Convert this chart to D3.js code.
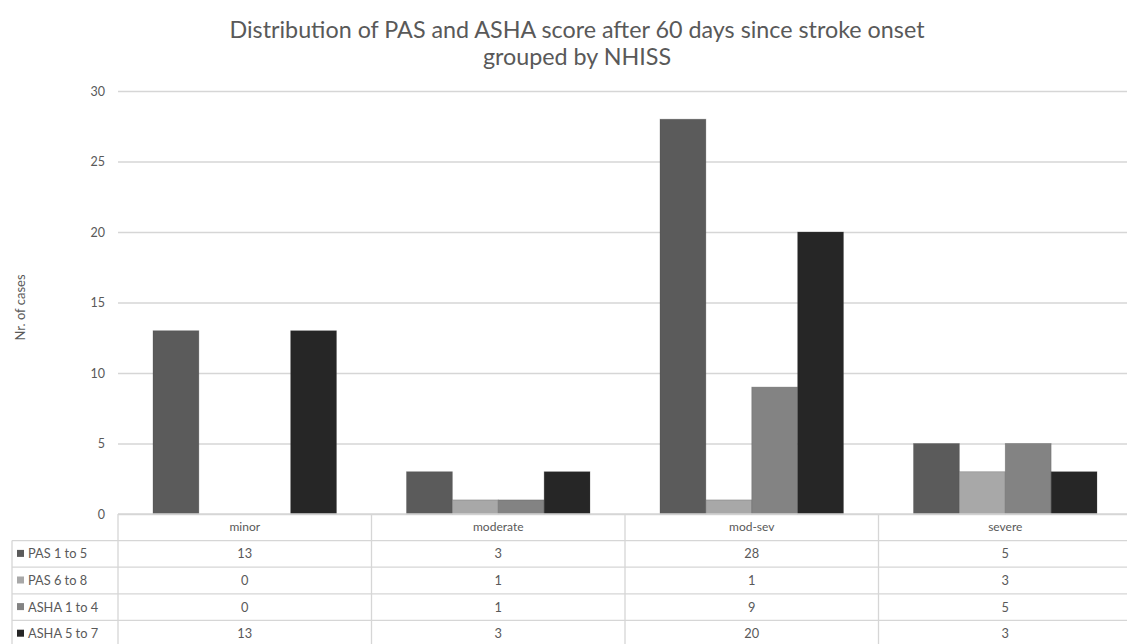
<!DOCTYPE html>
<html>
<head>
<meta charset="utf-8">
<script src="https://cdn.jsdelivr.net/npm/d3@7"></script>
<style>
  html, body { margin: 0; padding: 0; background: #fff; }
  svg { display: block; font-family: "Lato", "Open Sans", sans-serif; }
</style>
</head>
<body>
<svg id="chart" width="1127" height="644"></svg>
<script>
// Severity groups (NIHSS) and the score bands counted in each
const categories = ["minor", "moderate", "mod-sev", "severe"];
const seriesNames = ["PAS 1 to 5", "PAS 6 to 8", "ASHA 1 to 4", "ASHA 5 to 7"];
const pas1to5  = [13, 3, 28, 5];
const pas6to8  = [0, 1, 1, 3];
const asha1to4 = [0, 1, 9, 5];
const asha5to7 = [13, 3, 20, 3];
const yTicks = [0, 5, 10, 15, 20, 25, 30];

const seriesValues = [pas1to5, pas6to8, asha1to4, asha5to7];
const colors = ["#5b5b5b", "#a8a8a8", "#838383", "#262626"];

const svg = d3.select("#chart");
const textColor = "#595959";
const gridColor = "#d6d6d6";

const plotLeft = 118, plotRight = 1132, plotTop = 91, plotBottom = 514;
const rowH = 26.6;
const legendX = 12;

const x0 = d3.scaleBand().domain(categories).range([plotLeft, plotRight]);
const bandW = x0.bandwidth();
const x1 = d3.scaleBand().domain(seriesNames).range([35, bandW - 35]);
const y = d3.scaleLinear().domain([0, 30]).range([plotBottom, plotTop]);

svg.append("rect").attr("width", 1127).attr("height", 644).attr("fill", "#fff");

// Title
const title = svg.append("text")
  .attr("text-anchor", "middle")
  .attr("fill", textColor).style("font-size", "23.3px");
title.append("tspan").attr("x", 577).attr("y", 38)
  .text("Distribution of PAS and ASHA score after 60 days since stroke onset");
title.append("tspan").attr("x", 577).attr("y", 65).text("grouped by NHISS");

// Horizontal gridlines and y tick labels
const yAxis = d3.axisLeft(y).tickValues(yTicks).tickSize(-(plotRight - plotLeft)).tickPadding(13);
const gAxis = svg.append("g").attr("transform", `translate(${plotLeft},0)`).call(yAxis);
gAxis.select(".domain").remove();
gAxis.selectAll(".tick line").attr("stroke", gridColor).attr("stroke-width", 1.3);
gAxis.selectAll(".tick text").attr("fill", textColor)
  .style("font-size", "12.5px").style("font-family", "Lato, sans-serif");

// Y axis title
svg.append("text")
  .attr("transform", `translate(25,${(plotTop + plotBottom) / 2 + 5}) rotate(-90)`)
  .attr("text-anchor", "middle").attr("fill", textColor)
  .style("font-size", "13px").text("Nr. of cases");

// Bars
const groups = svg.append("g").selectAll("g")
  .data(categories).join("g")
  .attr("transform", d => `translate(${x0(d)},0)`);
groups.selectAll("rect")
  .data((c, ci) => seriesNames.map((s, si) => ({ s, si, v: seriesValues[si][ci] })))
  .join("rect")
  .attr("x", d => x1(d.s))
  .attr("width", x1.bandwidth())
  .attr("y", d => y(d.v))
  .attr("height", d => y(0) - y(d.v))
  .attr("fill", d => colors[d.si])
  .attr("stroke", d => d.v > 0 ? "#4a4a4a" : "none")
  .attr("stroke-opacity", 0.35)
  .attr("stroke-width", 0.8);

// Data table below the plot
const table = svg.append("g");
const rowTop = plotBottom + rowH; // first series row
const tableBottom = rowTop + rowH * seriesNames.length;

// Horizontal rule lines
for (let i = 0; i <= seriesNames.length; i++) {
  table.append("line")
    .attr("x1", legendX).attr("x2", plotRight)
    .attr("y1", rowTop + i * rowH).attr("y2", rowTop + i * rowH)
    .attr("stroke", gridColor).attr("stroke-width", 1.3);
}
table.append("line")
  .attr("x1", plotLeft).attr("x2", plotRight).attr("y1", plotBottom).attr("y2", plotBottom)
  .attr("stroke", gridColor).attr("stroke-width", 1.3);

// Vertical rule lines
categories.forEach(c => {
  table.append("line")
    .attr("x1", x0(c)).attr("x2", x0(c))
    .attr("y1", plotBottom).attr("y2", tableBottom)
    .attr("stroke", gridColor).attr("stroke-width", 1.3);
});
table.append("line")
  .attr("x1", plotRight).attr("x2", plotRight).attr("y1", plotBottom).attr("y2", tableBottom)
  .attr("stroke", gridColor).attr("stroke-width", 1.3);
table.append("line")
  .attr("x1", legendX).attr("x2", legendX).attr("y1", rowTop).attr("y2", tableBottom)
  .attr("stroke", gridColor).attr("stroke-width", 1.3);

// Category header row
table.selectAll("text.cat")
  .data(categories).join("text")
  .attr("class", "cat")
  .attr("x", d => x0(d) + bandW / 2)
  .attr("y", plotBottom + rowH / 2 + 4)
  .attr("text-anchor", "middle").attr("fill", textColor)
  .style("font-size", "12px").text(d => d);

// Series rows: legend key, name and values
seriesNames.forEach((s, si) => {
  const cy = rowTop + rowH * si + rowH / 2;
  table.append("rect")
    .attr("x", legendX + 5).attr("y", cy - 4).attr("width", 7).attr("height", 7)
    .attr("fill", colors[si]);
  table.append("text")
    .attr("x", legendX + 16).attr("y", cy + 4.5)
    .attr("fill", textColor).style("font-size", "12.8px").text(s);
  categories.forEach((c, ci) => {
    table.append("text")
      .attr("x", x0(c) + bandW / 2).attr("y", cy + 4.5)
      .attr("text-anchor", "middle").attr("fill", textColor)
      .style("font-size", "12.8px").text(seriesValues[si][ci]);
  });
});
</script>
</body>
</html>
